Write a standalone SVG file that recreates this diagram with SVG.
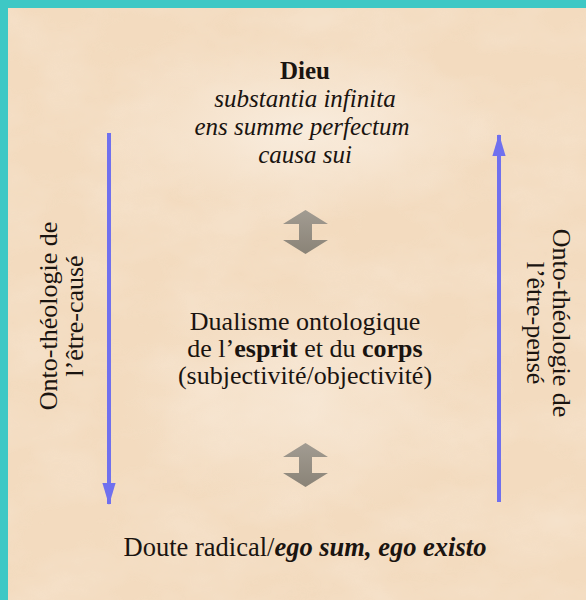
<svg xmlns="http://www.w3.org/2000/svg" width="586" height="600" viewBox="0 0 586 600">
  <defs>
    <style>
      .t { font-family: "Liberation Serif", "DejaVu Serif", serif; font-size: 26px; fill: #1a1410; text-anchor: middle; }
      .top { font-size: 25px; }
      .lg { font-size: 26.5px; }
      .b { font-weight: bold; }
      .i { font-style: italic; }
      .blue { stroke: #7070ee; stroke-width: 4; fill: none; }
    </style>
    <marker id="bluehead" viewBox="0 0 20 12" refX="19" refY="6" markerWidth="5.5" markerHeight="3.3" orient="auto" markerUnits="strokeWidth">
      <path d="M0,0 L20,6 L0,12 z" fill="#7070ee"/>
    </marker>
    <filter id="marble" x="0" y="0" width="100%" height="100%">
      <feTurbulence type="fractalNoise" baseFrequency="0.012 0.02" numOctaves="4" seed="7" result="n"/>
      <feColorMatrix in="n" type="matrix" values="0 0 0 0 0.93  0 0 0 0 0.80  0 0 0 0 0.66  0 0 0 -1.4 0.9" />
    </filter>
    <radialGradient id="lite" cx="0.5" cy="0.5" r="0.5">
      <stop offset="0" stop-color="#faf0e4" stop-opacity="0.8"/>
      <stop offset="1" stop-color="#faf0e4" stop-opacity="0"/>
    </radialGradient>
    <linearGradient id="gray" x1="0" y1="0" x2="0" y2="1">
      <stop offset="0" stop-color="#a29c92"/>
      <stop offset="1" stop-color="#8a8377"/>
    </linearGradient>
    <symbol id="dbl" viewBox="0 0 45 44" overflow="visible">
      <path d="M22.5,0 L45,14 L29,14 L29,30 L45,30 L22.5,44 L0,30 L16,30 L16,14 L0,14 z" fill="url(#gray)"/>
    </symbol>
  </defs>

  <!-- background -->
  <rect x="0" y="0" width="586" height="600" fill="#3ec8c5"/>
  <rect x="8" y="8" width="578" height="592" fill="#f3dbbf"/>
  <rect x="8" y="8" width="578" height="592" filter="url(#marble)" opacity="0.7"/>
  <ellipse cx="300" cy="130" rx="200" ry="90" fill="url(#lite)"/>
  <ellipse cx="300" cy="400" rx="180" ry="120" fill="url(#lite)" opacity="0.6"/>

  <g id="dieu">
    <text class="t top b" x="305" y="79">Dieu</text>
    <text class="t top i" x="305" y="107">substantia infinita</text>
    <text class="t top i" x="302" y="135">ens summe perfectum</text>
    <text class="t top i" x="305" y="163">causa sui</text>
  </g>

  <g id="dualisme">
    <text class="t" x="305" y="330">Dualisme ontologique</text>
    <text class="t" x="305" y="357">de l’<tspan class="b">esprit</tspan> et du <tspan class="b">corps</tspan></text>
    <text class="t" x="305" y="384">(subjectivité/objectivité)</text>
  </g>

  <g id="doute">
    <text class="t lg" x="305" y="556">Doute radical/<tspan class="b i">ego sum, ego existo</tspan></text>
  </g>

  <g id="label-left">
    <text class="t" transform="translate(57,316) rotate(-90)">Onto-théologie de</text>
    <text class="t" transform="translate(83,316) rotate(-90)">l’être-causé</text>
  </g>

  <g id="label-right">
    <text class="t" transform="translate(553,323) rotate(90)">Onto-théologie de</text>
    <text class="t" transform="translate(527,323) rotate(90)">l’être-pensé</text>
  </g>

  <g id="connectors">
    <line class="blue" x1="109" y1="133" x2="109" y2="504" marker-end="url(#bluehead)"/>
    <line class="blue" x1="499" y1="502" x2="499" y2="135" marker-end="url(#bluehead)"/>
    <use href="#dbl" x="283" y="210" width="45" height="44"/>
    <use href="#dbl" x="283" y="443" width="45" height="44"/>
  </g>
</svg>
